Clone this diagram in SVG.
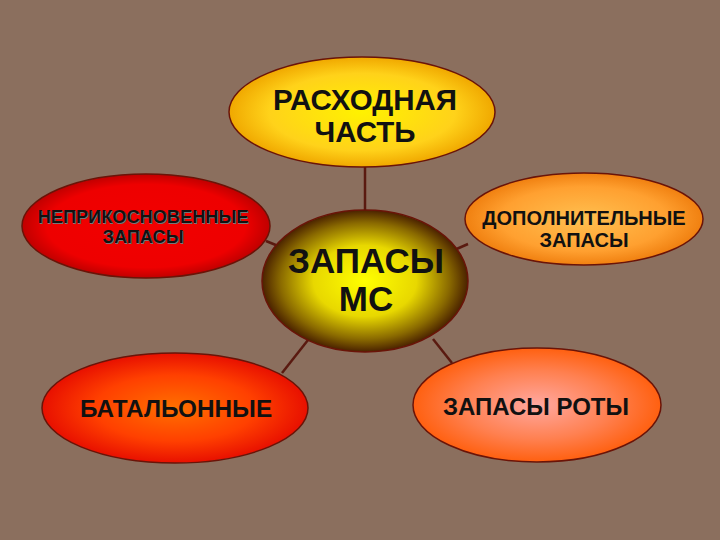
<svg xmlns="http://www.w3.org/2000/svg" width="720" height="540" viewBox="0 0 720 540">
<defs>
<radialGradient id="gTop" cx="50%" cy="50%" r="50%"><stop offset="0" stop-color="#FFF200"/><stop offset="0.7" stop-color="#FFD21A"/><stop offset="1" stop-color="#F0A800"/></radialGradient>
<radialGradient id="gLT" cx="50%" cy="50%" r="50%"><stop offset="0" stop-color="#F20000"/><stop offset="0.8" stop-color="#EE0000"/><stop offset="1" stop-color="#C00000"/></radialGradient>
<radialGradient id="gC" cx="50%" cy="50%" r="50%"><stop offset="0" stop-color="#FFFF00"/><stop offset="0.5" stop-color="#E8D800"/><stop offset="0.82" stop-color="#8A6A00"/><stop offset="1" stop-color="#4A2200"/></radialGradient>
<radialGradient id="gRT" cx="50%" cy="50%" r="50%"><stop offset="0" stop-color="#FFC050"/><stop offset="0.7" stop-color="#FFA030"/><stop offset="1" stop-color="#F08010"/></radialGradient>
<radialGradient id="gLB" cx="50%" cy="50%" r="50%"><stop offset="0" stop-color="#FF7000"/><stop offset="0.6" stop-color="#FF4000"/><stop offset="1" stop-color="#E81000"/></radialGradient>
<radialGradient id="gRB" cx="50%" cy="50%" r="50%"><stop offset="0" stop-color="#FFA8A0"/><stop offset="0.6" stop-color="#FF8050"/><stop offset="1" stop-color="#FF6010"/></radialGradient>
</defs>
<style>
.node ellipse{stroke:#6A1408;stroke-width:1.5}
.conn line{stroke:#5A1A10;stroke-width:2.5}
text{font-family:"Liberation Sans",Arial,sans-serif;font-weight:bold;fill:#111;text-anchor:middle}
.sh{fill:#777}
</style>
<rect width="720" height="540" fill="#8B6F5E"/>
<g id="connectors" class="conn">
<line x1="365" y1="167" x2="365" y2="211"/>
<line x1="266" y1="241" x2="288" y2="250"/>
<line x1="468" y1="244" x2="452" y2="251"/>
<line x1="308" y1="340" x2="282" y2="373"/>
<line x1="433" y1="339" x2="452" y2="363"/>
</g>
<g id="top" class="node">
<ellipse cx="362" cy="112" rx="133" ry="55" fill="url(#gTop)"/>
<text x="365" y="110" font-size="29.5">РАСХОДНАЯ</text>
<text x="365" y="142" font-size="29.5">ЧАСТЬ</text>
</g>
<g id="leftTop" class="node">
<ellipse cx="146" cy="226" rx="124" ry="52" fill="url(#gLT)"/>
<text class="sh" x="144" y="224" font-size="18.2">НЕПРИКОСНОВЕННЫЕ</text>
<text x="143" y="223" font-size="18.2">НЕПРИКОСНОВЕННЫЕ</text>
<text class="sh" x="144" y="244" font-size="18.2">ЗАПАСЫ</text>
<text x="143" y="243" font-size="18.2">ЗАПАСЫ</text>
</g>
<g id="center" class="node">
<ellipse cx="365" cy="281" rx="103" ry="71" fill="url(#gC)"/>
<text x="366" y="273" font-size="35">ЗАПАСЫ</text>
<text x="366" y="311" font-size="35">МС</text>
</g>
<g id="rightTop" class="node">
<ellipse cx="584" cy="219" rx="119" ry="46" fill="url(#gRT)"/>
<text x="584" y="225" font-size="20">ДОПОЛНИТЕЛЬНЫЕ</text>
<text x="584" y="247" font-size="20">ЗАПАСЫ</text>
</g>
<g id="leftBottom" class="node">
<ellipse cx="175" cy="408" rx="133" ry="55" fill="url(#gLB)"/>
<text x="176" y="417" font-size="24.3">БАТАЛЬОННЫЕ</text>
</g>
<g id="rightBottom" class="node">
<ellipse cx="537" cy="405" rx="124" ry="57" fill="url(#gRB)"/>
<text x="536" y="415" font-size="24">ЗАПАСЫ РОТЫ</text>
</g>
</svg>
